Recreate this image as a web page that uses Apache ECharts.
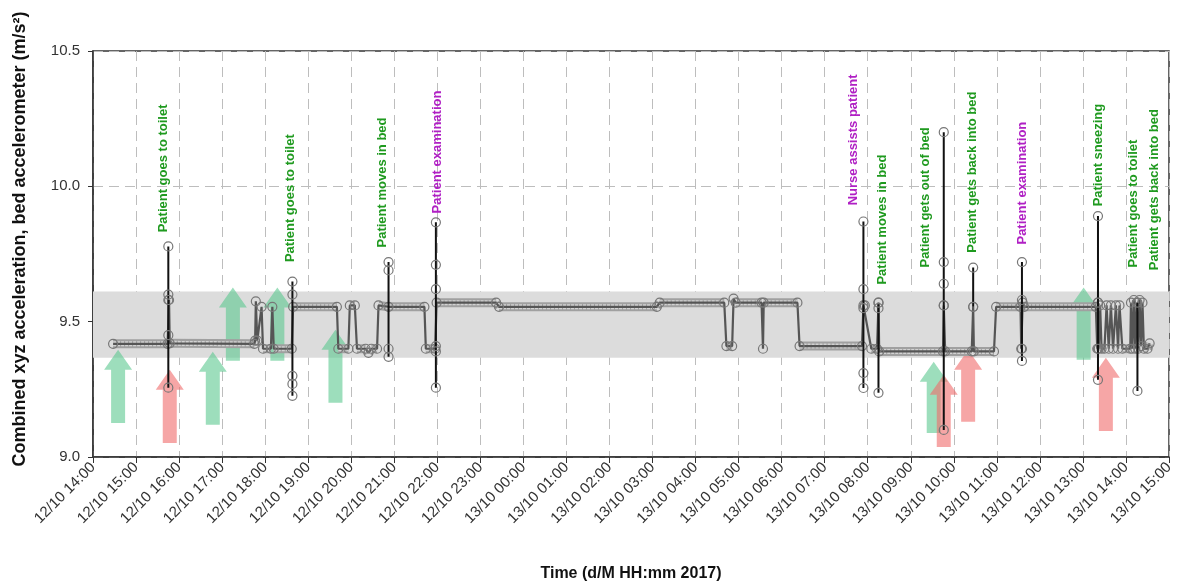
<!DOCTYPE html>
<html lang="en">
<head>
    <meta charset="UTF-8">
    <title>Bed accelerometer</title>
    <style>
        html,body{
            width: 100%;
            height: 100%;
            margin: 0;
            padding: 0;
            background: #fff;
        }
    </style>
</head>
<body>
<div id="main" style="width: 1179px;height:583px;"></div>

<script src="https://cdn.jsdelivr.net/npm/echarts@6/dist/echarts.min.js"></script>
<script>
    // x ticks, one per hour
    var tickLabels = [
        '12/10 14:00','12/10 15:00','12/10 16:00','12/10 17:00','12/10 18:00','12/10 19:00',
        '12/10 20:00','12/10 21:00','12/10 22:00','12/10 23:00','13/10 00:00','13/10 01:00',
        '13/10 02:00','13/10 03:00','13/10 04:00','13/10 05:00','13/10 06:00','13/10 07:00',
        '13/10 08:00','13/10 09:00','13/10 10:00','13/10 11:00','13/10 12:00','13/10 13:00',
        '13/10 14:00','13/10 15:00'
    ];

    // main trace: "day HH:mm", acceleration
    var trace = [
        ['12 14:28', 9.418], ['12 15:44', 9.418], ['12 15:46', 9.58], ['12 15:47', 9.42],
        ['12 17:45', 9.418], ['12 17:46', 9.43], ['12 17:47', 9.575], ['12 17:49', 9.43],
        ['12 17:55', 9.555], ['12 17:57', 9.40], ['12 18:08', 9.40], ['12 18:10', 9.555],
        ['12 18:12', 9.40], ['12 18:37', 9.40], ['12 18:39', 9.555], ['12 19:40', 9.555],
        ['12 19:42', 9.40], ['12 19:56', 9.40], ['12 19:58', 9.56], ['12 20:05', 9.56],
        ['12 20:08', 9.40], ['12 20:20', 9.40], ['12 20:24', 9.385], ['12 20:28', 9.40],
        ['12 20:36', 9.40], ['12 20:38', 9.56], ['12 20:52', 9.555], ['12 21:42', 9.555],
        ['12 21:44', 9.40], ['12 21:57', 9.40], ['12 21:59', 9.57], ['12 23:22', 9.57],
        ['12 23:26', 9.555], ['13 03:06', 9.555], ['13 03:10', 9.57], ['13 04:40', 9.57],
        ['13 04:43', 9.41], ['13 04:51', 9.41], ['13 04:53', 9.585], ['13 04:56', 9.57],
        ['13 05:32', 9.57], ['13 05:34', 9.40], ['13 05:35', 9.57], ['13 06:22', 9.57],
        ['13 06:25', 9.41], ['13 07:52', 9.41], ['13 07:54', 9.56], ['13 07:56', 9.56],
        ['13 08:05', 9.40], ['13 08:13', 9.40], ['13 08:15', 9.57], ['13 08:16', 9.39],
        ['13 09:45', 9.39], ['13 09:46', 9.56], ['13 09:48', 9.39], ['13 10:25', 9.39],
        ['13 10:27', 9.555], ['13 10:28', 9.39], ['13 10:56', 9.39], ['13 10:59', 9.555],
        ['13 11:33', 9.555], ['13 11:34', 9.40], ['13 11:36', 9.57], ['13 11:38', 9.555],
        ['13 13:18', 9.555], ['13 13:20', 9.40], ['13 13:21', 9.57], ['13 13:22', 9.40],
        ['13 13:24', 9.56], ['13 13:26', 9.40], ['13 13:30', 9.40], ['13 13:33', 9.56],
        ['13 13:36', 9.40], ['13 13:39', 9.56], ['13 13:42', 9.40], ['13 13:46', 9.56],
        ['13 13:49', 9.40], ['13 13:51', 9.56], ['13 13:55', 9.40], ['13 14:06', 9.40],
        ['13 14:07', 9.57], ['13 14:09', 9.40], ['13 14:11', 9.58], ['13 14:13', 9.40],
        ['13 14:15', 9.57], ['13 14:17', 9.40], ['13 14:19', 9.58], ['13 14:21', 9.41],
        ['13 14:23', 9.57], ['13 14:25', 9.40], ['13 14:30', 9.40], ['13 14:33', 9.42]
    ];

    // short events, all readings at one moment
    var spikes = [
        ['12 15:45', [9.256, 9.45, 9.58, 9.60, 9.778]],
        ['12 18:38', [9.226, 9.27, 9.30, 9.60, 9.648]],
        ['12 20:52', [9.37, 9.40, 9.69, 9.72]],
        ['12 21:58', [9.256, 9.39, 9.41, 9.62, 9.71, 9.867]],
        ['13 07:54', [9.255, 9.31, 9.55, 9.62, 9.87]],
        ['13 08:15', [9.237, 9.55, 9.57]],
        ['13 09:46', [9.10, 9.56, 9.64, 9.72, 10.20]],
        ['13 10:27', [9.555, 9.70]],
        ['13 11:35', [9.355, 9.40, 9.58, 9.72]],
        ['13 13:21', [9.285, 9.40, 9.57, 9.89]],
        ['13 14:16', [9.244, 9.57]]
    ];

    var normalBand = [9.367, 9.611];

    // arrows: time, base, tip
    var greenArrows = [
        ['12 14:35', 9.126, 9.396], ['12 16:47', 9.119, 9.389], ['12 17:15', 9.356, 9.626],
        ['12 18:17', 9.356, 9.626], ['12 19:38', 9.20, 9.47], ['13 09:32', 9.089, 9.352],
        ['13 13:01', 9.359, 9.626]
    ];
    var redArrows = [
        ['12 15:47', 9.052, 9.322], ['13 09:46', 9.037, 9.304], ['13 10:20', 9.13, 9.396],
        ['13 13:32', 9.096, 9.367]
    ];

    // annotations: time, value where text starts, text, kind (p = staff, g = patient)
    var notes = [
        ['12 15:38', 9.83, 'Patient goes to toilet', 'g'],
        ['12 18:35', 9.72, 'Patient goes to toilet', 'g'],
        ['12 20:43', 9.774, 'Patient moves in bed', 'g'],
        ['12 22:00', 9.90, 'Patient examination', 'p'],
        ['13 07:40', 9.93, 'Nurse assists patient', 'p'],
        ['13 08:21', 9.637, 'Patient moves in bed', 'g'],
        ['13 09:21', 9.70, 'Patient gets out of bed', 'g'],
        ['13 10:26', 9.755, 'Patient gets back into bed', 'g'],
        ['13 11:36', 9.785, 'Patient examination', 'p'],
        ['13 13:22', 9.926, 'Patient sneezing', 'g'],
        ['13 14:10', 9.70, 'Patient goes to toilet', 'g'],
        ['13 14:39', 9.69, 'Patient gets back into bed', 'g']
    ];

    function hrs(s) {
        var p = s.split(' ');
        var hm = p[1].split(':');
        return (+p[0] - 12) * 24 + (+hm[0]) + (+hm[1]) / 60 - 14;
    }

    var traceData = trace.map(function (d) { return [hrs(d[0]), d[1]]; });

    // flat parts get the thick grey halo (the overlapping sample circles)
    var haloData = [];
    for (var i = 0; i < traceData.length - 1; i++) {
        if (Math.abs(traceData[i + 1][1] - traceData[i][1]) < 0.02) {
            haloData.push(traceData[i], traceData[i + 1], '-');
        }
    }

    var spikeData = [];
    spikes.forEach(function (s) {
        var t = hrs(s[0]);
        s[1].forEach(function (v) { spikeData.push([t, v]); });
        spikeData.push('-');
    });

    var arrowData = [];
    greenArrows.forEach(function (a) { arrowData.push([hrs(a[0]), a[1], a[2], 0]); });
    redArrows.forEach(function (a) { arrowData.push([hrs(a[0]), a[1], a[2], 1]); });

    var noteData = notes.map(function (n) { return [hrs(n[0]), n[1]]; });

    var font = '"Liberation Sans", Arial, sans-serif';
    var hollow = {color: 'rgba(0,0,0,0)', borderColor: '#777', borderWidth: 1.2};

    var myChart = echarts.init(document.getElementById('main'));

    myChart.setOption({
        animation: false,
        grid: {
            left: 93,
            right: 10,
            top: 51,
            bottom: 126,
            outerBoundsMode: 'none',
            show: true,
            borderColor: '#333',
            borderWidth: 1.5,
            backgroundColor: 'transparent'
        },
        xAxis: {
            type: 'value',
            min: 0,
            max: 25,
            interval: 1,
            name: 'Time (d/M HH:mm 2017)',
            nameLocation: 'middle',
            nameGap: 109,
            nameTextStyle: {fontFamily: font, fontWeight: 'bold', fontSize: 16, color: '#111'},
            axisLine: {lineStyle: {color: '#333', width: 1.5}},
            axisTick: {show: true, length: 6, lineStyle: {color: '#333'}},
            axisLabel: {
                rotate: 45,
                fontFamily: font,
                fontSize: 15,
                color: '#333',
                margin: 8,
                formatter: function (v) { return tickLabels[Math.round(v)]; }
            },
            splitLine: {show: true, lineStyle: {color: '#bdbdbd', type: [10, 6], width: 1}}
        },
        yAxis: {
            type: 'value',
            min: 9.0,
            max: 10.5,
            interval: 0.5,
            name: 'Combined xyz acceleration, bed accelerometer (m/s²)',
            nameLocation: 'middle',
            nameGap: 64,
            nameTextStyle: {
                fontFamily: font, fontWeight: 'bold', fontSize: 18, color: '#111',
                padding: [0, 0, 0, 30]
            },
            axisLine: {show: true, lineStyle: {color: '#333', width: 1.5}},
            axisTick: {show: true, length: 5, lineStyle: {color: '#333'}},
            axisLabel: {
                fontFamily: font,
                fontSize: 15,
                color: '#333',
                margin: 13,
                formatter: function (v) { return v.toFixed(1); }
            },
            splitLine: {show: true, lineStyle: {color: '#bdbdbd', type: [10, 6], width: 1}}
        },
        series: [
            {
                // normal range band
                type: 'line',
                data: [],
                z: 1,
                silent: true,
                markArea: {
                    silent: true,
                    itemStyle: {color: '#dcdcdc'},
                    data: [[{yAxis: normalBand[0]}, {yAxis: normalBand[1]}]]
                }
            },
            {
                type: 'custom',
                z: 2,
                silent: true,
                data: arrowData,
                encode: {x: 0, y: [1, 2]},
                renderItem: function (params, api) {
                    var b = api.coord([api.value(0), api.value(1)]);
                    var t = api.coord([api.value(0), api.value(2)]);
                    var sw = 7, hw = 14, hl = 20;
                    var x = b[0];
                    return {
                        type: 'polygon',
                        shape: {
                            points: [
                                [x - sw, b[1]], [x - sw, t[1] + hl], [x - hw, t[1] + hl], [x, t[1]],
                                [x + hw, t[1] + hl], [x + sw, t[1] + hl], [x + sw, b[1]]
                            ]
                        },
                        style: {
                            fill: api.value(3) === 0 ? '#5cc890' : '#f06a6a',
                            opacity: 0.6
                        }
                    };
                }
            },
            {
                type: 'line',
                z: 3,
                silent: true,
                data: haloData,
                showSymbol: false,
                lineStyle: {color: '#a0a0a0', width: 9}
            },
            {
                type: 'line',
                z: 3,
                silent: true,
                data: haloData,
                showSymbol: false,
                lineStyle: {color: '#d2d2d2', width: 5, type: [3, 1]}
            },
            {
                type: 'line',
                z: 4,
                data: traceData,
                symbol: 'circle',
                symbolSize: 9,
                showAllSymbol: true,
                itemStyle: hollow,
                lineStyle: {color: '#555', width: 2.2}
            },
            {
                type: 'line',
                z: 5,
                data: spikeData,
                connectNulls: false,
                symbol: 'circle',
                symbolSize: 9,
                showAllSymbol: true,
                itemStyle: hollow,
                lineStyle: {color: '#111', width: 2}
            },
            {
                type: 'custom',
                z: 6,
                silent: true,
                data: noteData,
                encode: {x: 0, y: 1},
                renderItem: function (params, api) {
                    var p = api.coord([api.value(0), api.value(1)]);
                    var n = notes[params.dataIndex];
                    return {
                        type: 'text',
                        x: p[0],
                        y: p[1],
                        rotation: Math.PI / 2,
                        style: {
                            text: n[2],
                            fill: n[3] === 'g' ? '#1f9a1f' : '#b020c4',
                            font: 'bold 13px ' + font,
                            align: 'left',
                            verticalAlign: 'middle'
                        }
                    };
                }
            }
        ]
    });
</script>
</body>
</html>
